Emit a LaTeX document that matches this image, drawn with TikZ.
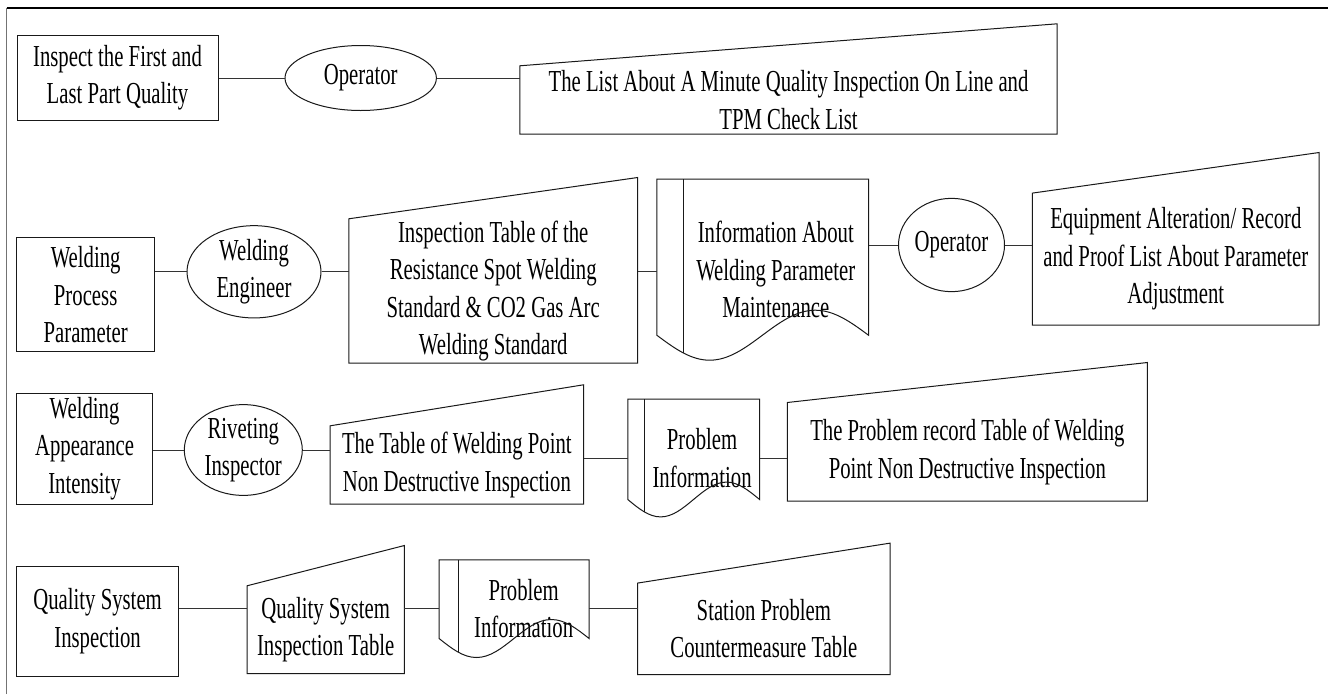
\documentclass[tikz,border=0pt]{standalone}
\usepackage{fontspec}
\setmainfont{Liberation Serif}[FakeStretch=0.68]
\usetikzlibrary{shapes.geometric}
\begin{document}
\begin{tikzpicture}[x=1pt,y=-1pt,
  lbl/.style={align=center, inner sep=0pt, font=\fontsize{30.5pt}{37.5pt}\selectfont},
  shp/.style={line width=1pt, draw=black!90},
  boxnode/.style={lbl, shp, rectangle},
  ovalnode/.style={lbl, shp, ellipse},
  link/.style={line width=1pt, draw=black!80}]
\useasboundingbox (0,0) rectangle (1328,694);
\fill[white] (0,0) rectangle (1328,694);
% page frame
\draw[line width=0.8pt, black!55] (6.5,694) -- (6.5,8);
\draw[line width=1.6pt] (6.5,8) -- (1328,8);

% ---------- row 1 ----------
\node[boxnode, minimum width=201pt, minimum height=85.7pt] (b1) at (117.5,77.85) {Inspect the First and\\Last Part Quality};
\node[ovalnode, minimum width=151.4pt, minimum height=65pt] (e1) at (360.7,78) {Operator};
\node[lbl, minimum width=537pt, minimum height=68pt] (t1) at (788.5,100) {The List About A Minute Quality Inspection On Line and\\TPM Check List};
\draw[shp] (t1.south west) -- (t1.north west) -- ([yshift=42pt]t1.north east) -- (t1.south east) -- cycle;
\draw[link] (b1.east |- e1) -- (e1);
\draw[link] (e1) -- (t1.west |- e1);

% ---------- row 2 ----------
\node[boxnode, minimum width=138.3pt, minimum height=114pt] (b2) at (85.65,294.7) {Welding\\Process\\Parameter};
\node[ovalnode, minimum width=134pt, minimum height=89.7pt] (e2) at (254,271.8) {Welding\\Engineer};
\node[lbl, minimum width=288.5pt, minimum height=144pt] (t2) at (493.25,291) {Inspection Table of the\\Resistance Spot Welding\\Standard \& CO2 Gas Arc\\Welding Standard};
\draw[shp] (t2.south west) -- (t2.north west) -- ([yshift=41.3pt]t2.north east) -- (t2.south east) -- cycle;
\node[lbl, minimum width=185pt, minimum height=180.7pt] (d1) at (775.8,269.65) {Information About\\Welding Parameter\\Maintenance};
\coordinate (d1w) at ([xshift=-26.3pt]d1.north west);
\draw[shp] (d1w) -- ([xshift=-26.3pt,yshift=25pt]d1.south west)
  sin ([xshift=26.525pt]d1.south west)
  cos ([xshift=79.35pt,yshift=25pt]d1.south west)
  sin ([xshift=132.175pt,yshift=50pt]d1.south west)
  cos ([yshift=25pt]d1.south east) -- (d1.north east) -- cycle;
\draw[shp] (d1.north west) -- ([yshift=7.4pt]d1.south west);
\node[ovalnode, minimum width=106pt, minimum height=93.3pt] (e4) at (951.5,245) {Operator};
\node[lbl, minimum width=286.4pt, minimum height=131.7pt] (t3) at (1175.8,259.15) {Equipment Alteration/ Record\\and Proof List About Parameter\\Adjustment};
\draw[shp] (t3.south west) -- (t3.north west) -- ([yshift=40.6pt]t3.north east) -- (t3.south east) -- cycle;
\draw[link] (b2.east |- e2) -- (e2);
\draw[link] (e2) -- (t2.west |- e2);
\draw[link] (t2.east |- e2) -- (d1w |- e2);
\draw[link] (d1.east |- e4) -- (e4);
\draw[link] (e4) -- (t3.west |- e4);

% ---------- row 3 ----------
\node[boxnode, minimum width=136.1pt, minimum height=110.7pt] (b3) at (84.55,448.65) {Welding\\Appearance\\Intensity};
\node[ovalnode, minimum width=118pt, minimum height=86pt] (e3) at (243.3,450) {Riveting\\Inspector};
\node[lbl, minimum width=252.9pt, minimum height=78pt] (t4) at (456.85,465) {The Table of Welding Point\\Non Destructive Inspection};
\draw[shp] (t4.south west) -- (t4.north west) -- ([yshift=41pt]t4.north east) -- (t4.south east) -- cycle;
\node[lbl, minimum width=114.6pt, minimum height=117.4pt] (d2) at (702.1,458) {Problem\\Information};
\coordinate (d2w) at ([xshift=-16.8pt]d2.north west);
\draw[shp] (d2w) -- ([xshift=-16.8pt,yshift=17.4pt]d2.south west)
  sin ([xshift=16.05pt]d2.south west)
  cos ([xshift=48.9pt,yshift=17.4pt]d2.south west)
  sin ([xshift=81.75pt,yshift=34.8pt]d2.south west)
  cos ([yshift=17.4pt]d2.south east) -- (d2.north east) -- cycle;
\draw[shp] (d2.north west) -- ([yshift=4.9pt]d2.south west);
\node[lbl, minimum width=359.7pt, minimum height=98.3pt] (t5) at (967.35,451.85) {The Problem record Table of Welding\\Point Non Destructive Inspection};
\draw[shp] (t5.south west) -- (t5.north west) -- ([yshift=40pt]t5.north east) -- (t5.south east) -- cycle;
\draw[link] (b3.east |- e3) -- (e3);
\draw[link] (e3) -- (t4.west |- e3);
\draw[link] (t4.east |- d2) -- (d2w |- d2);
\draw[link] (d2.east) -- (t5.west |- d2);

% ---------- row 4 ----------
\node[boxnode, minimum width=162.2pt, minimum height=110pt] (b4) at (97.6,621) {Quality System\\Inspection};
\node[lbl, minimum width=157pt, minimum height=87.3pt] (t6) at (325.7,629.65) {Quality System\\Inspection Table};
\draw[shp] (t6.south west) -- (t6.north west) -- ([yshift=40.3pt]t6.north east) -- (t6.south east) -- cycle;
\node[lbl, minimum width=130.5pt, minimum height=97.3pt] (d3) at (523.65,608.65) {Problem\\Information};
\coordinate (d3w) at ([xshift=-19.1pt]d3.north west);
\draw[shp] (d3w) -- ([xshift=-19.1pt,yshift=19pt]d3.south west)
  sin ([xshift=18.3pt]d3.south west)
  cos ([xshift=55.7pt,yshift=19pt]d3.south west)
  sin ([xshift=93.1pt,yshift=38pt]d3.south west)
  cos ([yshift=19pt]d3.south east) -- (d3.north east) -- cycle;
\draw[shp] (d3.north west) -- ([yshift=5.3pt]d3.south west);
\node[lbl, minimum width=252.3pt, minimum height=91pt] (t7) at (763.85,628.8) {Station Problem\\Countermeasure Table};
\draw[shp] (t7.south west) -- (t7.north west) -- ([yshift=40pt]t7.north east) -- (t7.south east) -- cycle;
\draw[link] (b4.east |- d3) -- (t6.west |- d3);
\draw[link] (t6.east |- d3) -- (d3w |- d3);
\draw[link] (d3.east) -- (t7.west |- d3);
\end{tikzpicture}
\end{document}
